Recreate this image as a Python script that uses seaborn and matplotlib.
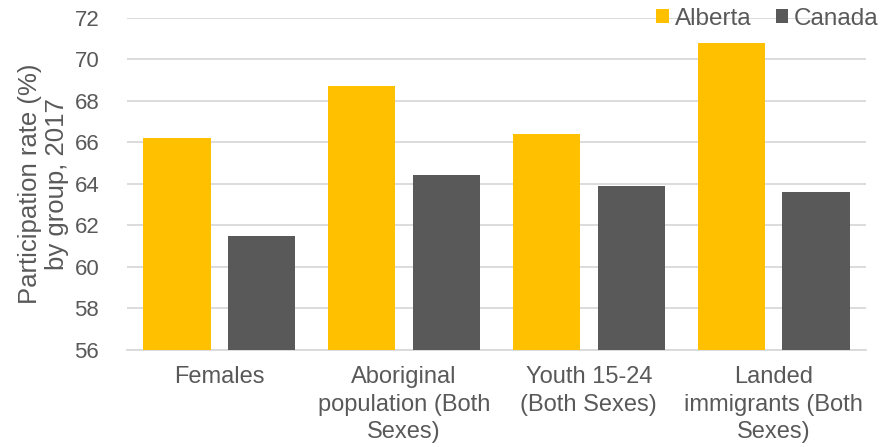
import matplotlib
matplotlib.use("Agg")
import matplotlib.pyplot as plt
import seaborn as sns
import pandas as pd

categories = ["Females", "Aboriginal\npopulation (Both\nSexes)", "Youth 15-24\n(Both Sexes)",
              "Landed\nimmigrants (Both\nSexes)"]
alberta = [66.2, 68.7, 66.4, 70.8]
canada = [61.5, 64.4, 63.9, 63.6]
series = ["Alberta", "Canada"]
yticks = [56, 58, 60, 62, 64, 66, 68, 70, 72]

df = pd.DataFrame({
    "group": categories * 2,
    "series": [series[0]] * 4 + [series[1]] * 4,
    "value": alberta + canada,
})

sns.set_theme(style="white")
plt.rcParams["font.family"] = ["Liberation Sans", "DejaVu Sans"]
TXT = "#595959"

fig = plt.figure(figsize=(8.95, 4.47), dpi=100)
ax = fig.add_axes([127 / 895, 1 - 349.5 / 447, (866 - 127) / 895, (349.5 - 18) / 447])

sns.barplot(data=df, x="group", y="value", hue="series", order=categories,
            hue_order=series, palette=["#FFC000", "#595959"], width=0.917, gap=0.205,
            ax=ax, zorder=3, saturation=1, edgecolor="none")

ax.set_ylim(56, 72)
ax.set_yticks(yticks)
ax.set_yticklabels([str(t) for t in yticks])
ax.yaxis.grid(True, color="#D9D9D9", linewidth=1.3, zorder=0)
ax.set_axisbelow(True)
for s in ["top", "right", "left"]:
    ax.spines[s].set_visible(False)
ax.spines["bottom"].set_color("#D9D9D9")
ax.spines["bottom"].set_linewidth(1.3)
ax.tick_params(axis="both", length=0, colors=TXT)
ax.tick_params(axis="y", pad=20, labelsize=16)
ax.tick_params(axis="x", pad=12, labelsize=17)
for lbl in ax.get_xticklabels():
    lbl.set_linespacing(1.32)

ax.set_xlabel("")
ax.set_ylabel("Participation rate (%)\nby group, 2017", fontsize=18.5, color=TXT, linespacing=1.15)
ax.yaxis.set_label_coords(-0.079, 0.5)

leg = ax.legend(loc="upper right", bbox_to_anchor=(893 / 895, 1.015), bbox_transform=fig.transFigure,
                ncol=2, frameon=False, fontsize=17.5, handlelength=0.5, handleheight=0.5,
                handletextpad=0.25, columnspacing=1.0, borderpad=0.1)
for t in leg.get_texts():
    t.set_color(TXT)

fig.savefig("out.png", dpi=100)
